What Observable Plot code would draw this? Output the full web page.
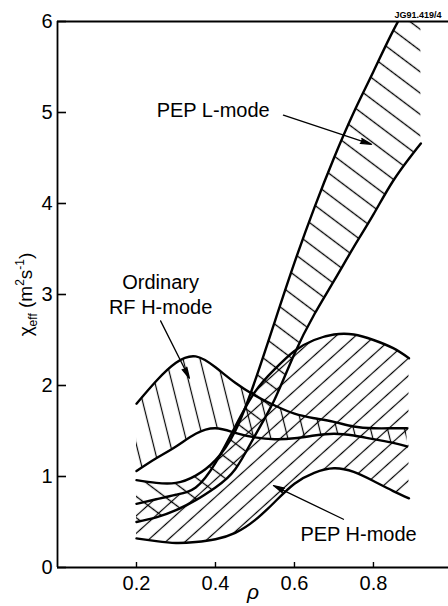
<!DOCTYPE html>
<html><head><meta charset="utf-8">
<script src="https://cdn.jsdelivr.net/npm/d3@7"></script>
<script src="https://cdn.jsdelivr.net/npm/@observablehq/plot@0.6"></script>
<style>
html,body{margin:0;padding:0;background:#fff;}
#chart svg{display:block;}
</style></head><body><div id="chart"></div>
<script>
// ---- PEP L-mode band ----
const lRho   = [0.2, 0.25, 0.3, 0.35, 0.4, 0.45, 0.5, 0.55, 0.6, 0.65, 0.7, 0.75, 0.8, 0.85, 0.9, 0.92];
const lUpper = [0.96, 0.93, 0.93, 1.01, 1.18, 1.5, 2.05, 2.7, 3.35, 3.95, 4.5, 5.0, 5.45, 5.9, 6.3, 6.5];
const lLower = [0.5, 0.55, 0.63, 0.74, 0.88, 1.08, 1.45, 1.85, 2.35, 2.78, 3.15, 3.52, 3.88, 4.25, 4.55, 4.66];
// ---- PEP H-mode band ----
const hRho   = [0.2, 0.25, 0.3, 0.35, 0.4, 0.45, 0.5, 0.55, 0.6, 0.65, 0.7, 0.75, 0.8, 0.85, 0.89];
const hUpper = [0.70, 0.75, 0.8, 0.88, 1.15, 1.55, 1.93, 2.18, 2.38, 2.5, 2.56, 2.56, 2.5, 2.41, 2.3];
const hLower = [0.32, 0.29, 0.27, 0.28, 0.31, 0.38, 0.52, 0.72, 0.92, 1.04, 1.09, 1.05, 0.95, 0.84, 0.76];
// ---- Ordinary RF H-mode band ----
const rfRho   = [0.2, 0.25, 0.3, 0.35, 0.4, 0.45, 0.5, 0.55, 0.6, 0.65, 0.7, 0.75, 0.8, 0.85, 0.885];
const rfUpper = [1.8, 2.05, 2.25, 2.32, 2.2, 2.03, 1.89, 1.78, 1.69, 1.64, 1.6, 1.55, 1.53, 1.53, 1.53];
const rfLower = [1.06, 1.2, 1.33, 1.47, 1.53, 1.48, 1.43, 1.41, 1.42, 1.45, 1.47, 1.45, 1.41, 1.37, 1.33];
// ---- ticks ----
const xTicks = [0.2, 0.4, 0.6, 0.8];
const yTicks = [0, 1, 2, 3, 4, 5, 6];
// ---- annotations ----
const labelText = ["PEP L-mode", "Ordinary\nRF H-mode", "PEP H-mode"];
const labelRho  = [0.251, 0.261, 0.615];
const labelChi  = [5.02, 3.01, 0.357];
const arrowFromRho = [0.572, 0.261, 0.724];
const arrowFromChi = [4.97, 2.71, 0.53];
const arrowToRho   = [0.795, 0.334, 0.547];
const arrowToChi   = [4.65, 2.08, 0.90];
const stampText = ["JG91.419/4"];
const stampRho = [0.853];
const stampChi = [6.07];
const yLabelPlaceholder = "χeff (m2s-1)";
const xLabel = "ρ";

const band = (rho, up, lo) => rho.map((r, i) => ({rho: r, upper: up[i], lower: lo[i]}));
const lBand = band(lRho, lUpper, lLower);
const hBand = band(hRho, hUpper, hLower);
const rfBand = band(rfRho, rfUpper, rfLower);
const labels = labelText.map((t, i) => ({t, rho: labelRho[i], chi: labelChi[i]}));
const arrows = arrowFromRho.map((r, i) => ({x1: r, y1: arrowFromChi[i], x2: arrowToRho[i], y2: arrowToChi[i]}));

const W = 448, H = 606, ML = 57, MR = 0, MT = 21, MB = 39;
const xDomain = [0, 0.99], yDomain = [0, 6];
// tick lengths (pixels) converted through the scale spans
const yTickLen = 9 * (xDomain[1] - xDomain[0]) / (W - ML - MR);
const xTickLen = 5 * (yDomain[1] - yDomain[0]) / (H - MT - MB);
const font = "'Liberation Sans', Arial, Helvetica, sans-serif";
const outline = {curve: "natural", stroke: "black", strokeWidth: 2.4, strokeLinejoin: "round", clip: true};

const svg = Plot.plot({
  width: W, height: H,
  marginLeft: ML, marginRight: MR, marginTop: MT, marginBottom: MB,
  style: {fontFamily: font, background: "white", color: "black"},
  x: {domain: xDomain, axis: null},
  y: {domain: yDomain, axis: null},
  marks: [
    Plot.areaY(hBand, {x: "rho", y1: "lower", y2: "upper", fill: "url(#hatchH)", curve: "natural", clip: true}),
    Plot.areaY(lBand, {x: "rho", y1: "lower", y2: "upper", fill: "url(#hatchL)", curve: "natural", clip: true}),
    Plot.areaY(rfBand, {x: "rho", y1: "lower", y2: "upper", fill: "url(#hatchRF)", curve: "natural", clip: true}),
    Plot.line(hBand, {x: "rho", y: "upper", ...outline}),
    Plot.line(hBand, {x: "rho", y: "lower", ...outline}),
    Plot.line(lBand, {x: "rho", y: "upper", ...outline}),
    Plot.line(lBand, {x: "rho", y: "lower", ...outline}),
    Plot.line(rfBand, {x: "rho", y: "upper", ...outline}),
    Plot.line(rfBand, {x: "rho", y: "lower", ...outline}),
    Plot.ruleX([0], {stroke: "black", strokeWidth: 1.8}),
    Plot.ruleY([0], {stroke: "black", strokeWidth: 1.8}),
    Plot.ruleY([6], {stroke: "black", strokeWidth: 1.8}),
    // inward ticks
    Plot.ruleY(yTicks, {y: d => d, x1: xDomain[0], x2: xDomain[0] + yTickLen, stroke: "black", strokeWidth: 1.6}),
    Plot.ruleX(xTicks, {x: d => d, y1: yDomain[0], y2: yDomain[0] + xTickLen, stroke: "black", strokeWidth: 1.4}),
    Plot.axisY(yTicks, {tickSize: 0, tickPadding: 5, fontSize: 20, label: null, tickFormat: d3.format("d")}),
    Plot.axisX(xTicks, {tickSize: 0, tickPadding: 8, fontSize: 20, label: null, tickFormat: d3.format(".1f")}),
    Plot.arrow(arrows, {x1: "x1", y1: "y1", x2: "x2", y2: "y2", stroke: "black", fill: "black", strokeWidth: 1.3, headLength: 13, headAngle: 26}),
    Plot.text(labels.slice(0, 1), {x: "rho", y: "chi", text: "t", textAnchor: "start", fontSize: 20}),
    Plot.text(labels.slice(1, 2), {x: "rho", y: "chi", text: "t", textAnchor: "middle", fontSize: 20, lineHeight: 1.25}),
    Plot.text(labels.slice(2, 3), {x: "rho", y: "chi", text: "t", textAnchor: "start", fontSize: 20}),
    Plot.text(stampText, {x: stampRho, y: stampChi, text: d => d, textAnchor: "start", fontSize: 9, fontWeight: "bold"}),
    Plot.text([yLabelPlaceholder], {frameAnchor: "left", dx: -32, rotate: -90, text: d => d, fontSize: 19, textAnchor: "middle", lineAnchor: "middle"}),
    Plot.text([xLabel], {frameAnchor: "bottom", dy: 25, text: d => d, fontSize: 21, fontStyle: "italic", textAnchor: "middle", lineAnchor: "middle"})
  ]
});

// hatch patterns
const defs = d3.select(svg).insert("defs", ":first-child");
function hatch(id, angle, spacing, width) {
  const p = defs.append("pattern").attr("id", id).attr("patternUnits", "userSpaceOnUse")
    .attr("width", 20).attr("height", spacing).attr("patternTransform", `rotate(${angle})`);
  p.append("line").attr("x1", -1).attr("x2", 21).attr("y1", spacing / 2).attr("y2", spacing / 2)
    .attr("stroke", "black").attr("stroke-width", width);
}
hatch("hatchL", 37, 17, 1.3);
hatch("hatchH", -42, 13, 1.2);
hatch("hatchRF", 76, 16.5, 1.2);

// y label with subscript / superscripts
for (const t of svg.querySelectorAll("text")) {
  if (t.textContent === yLabelPlaceholder) {
    while (t.firstChild) t.removeChild(t.firstChild);
    const parts = [["χ", 0], ["eff", 1], [" (m", 0], ["2", -1], ["s", 0], ["-1", -1], [")", 0]];
    let shift = 0;
    for (const [s, k] of parts) {
      const ts = document.createElementNS("http://www.w3.org/2000/svg", "tspan");
      const target = k === 1 ? 5 : k === -1 ? -8 : 0;
      ts.setAttribute("dy", target - shift);
      shift = target;
      if (k !== 0) ts.setAttribute("font-size", 12);
      ts.textContent = s;
      t.appendChild(ts);
    }
  }
}
document.getElementById("chart").appendChild(svg);
</script>
</body></html>
